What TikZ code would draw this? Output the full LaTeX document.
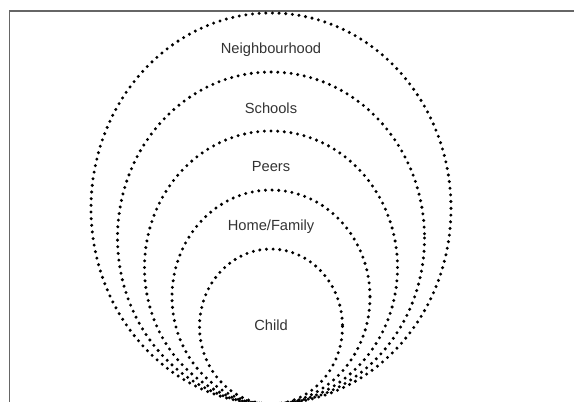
\documentclass[tikz,border=0pt]{standalone}
\usepackage{fontspec}
\setmainfont{Liberation Sans}
\begin{document}
\begin{tikzpicture}[x=0.75pt,y=-0.75pt,
  ring/.style={line width=2.5pt, dash pattern=on 0pt off 5pt, line cap=round},
  lbl/.style={font=\fontsize{11}{13}\selectfont, text=black!80}]
  \useasboundingbox (0,0) rectangle (574,401);
  \begin{scope}
    \clip (0,0) rectangle (574,401);
    % frame
    \draw[line width=1.4pt, black!60] (9.5,420) -- (9.5,11) -- (590,11);

    % rings, all touching at the bottom
    \draw[ring] (271,208.5) ellipse [x radius=180, y radius=195.5];
    \draw[ring] (271,238) ellipse [x radius=153.5, y radius=166];
    \draw[ring] (271,267.5) ellipse [x radius=126.5, y radius=136.5];
    \draw[ring] (271,297) ellipse [x radius=99, y radius=107];
    \draw[ring] (271,326.5) ellipse [x radius=71.5, y radius=77.5];
  \end{scope}

  \node[lbl] (neighbourhood) at (271,50) {Neighbourhood};
  \node[lbl] (schools) at (271,108) {Schools};
  \node[lbl] (peers) at (271,167) {Peers};
  \node[lbl] (home) at (271,227) {Home/Family};
  \node[lbl] (child) at (271,325) {Child};
\end{tikzpicture}
\end{document}
